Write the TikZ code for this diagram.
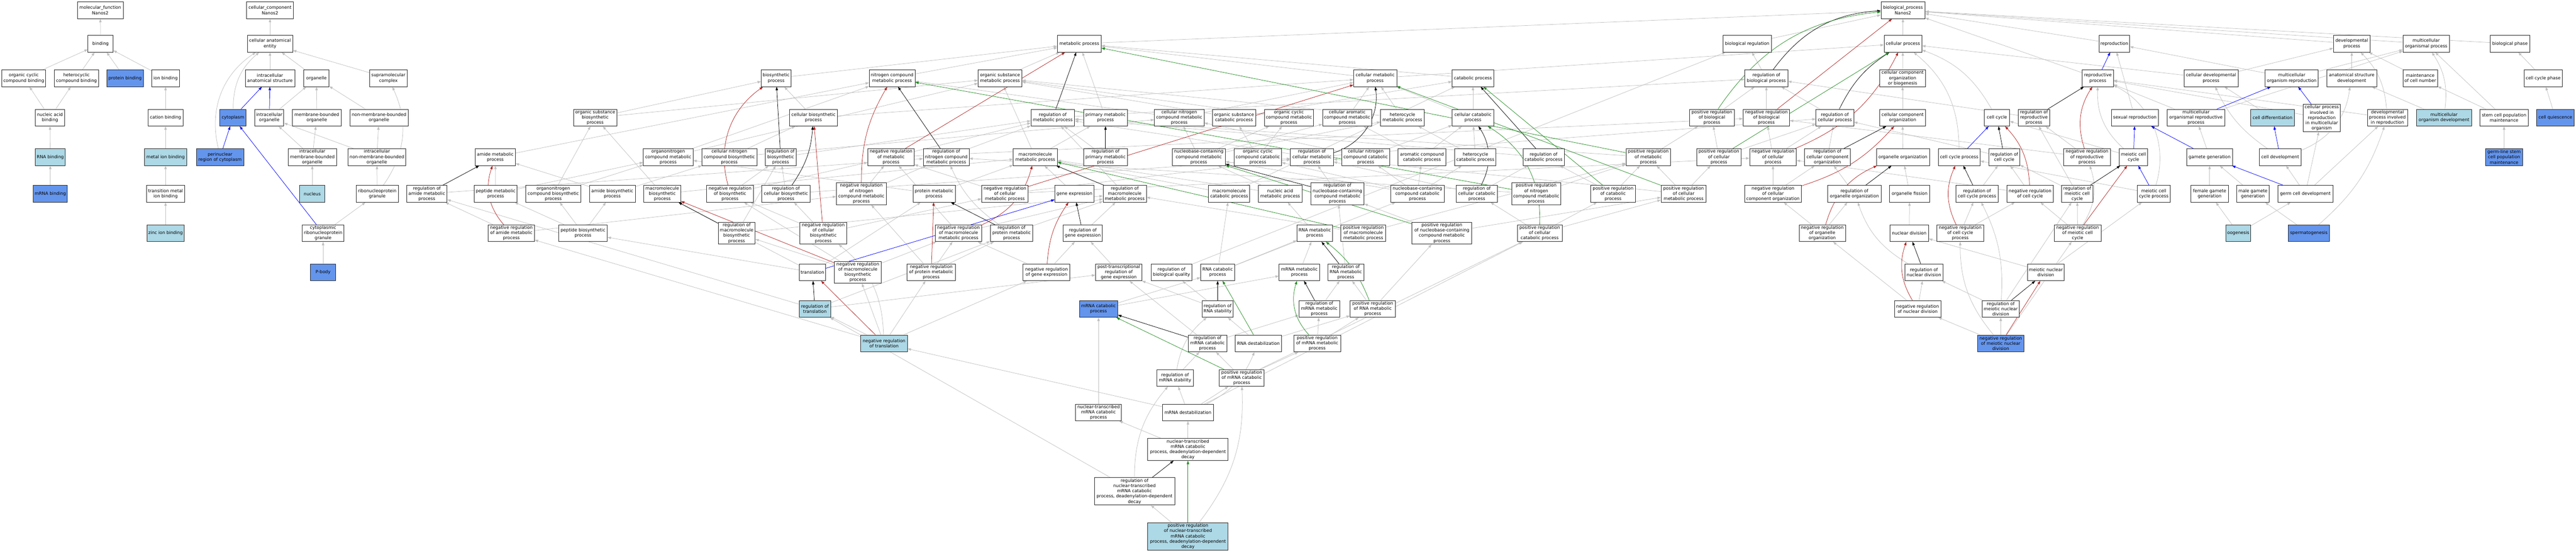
\documentclass[tikz,border=0pt]{standalone}
\usepackage{fontspec}
\setmainfont{DejaVu Sans}
\usetikzlibrary{arrows.meta,backgrounds}
\definecolor{lblue}{RGB}{173,216,230}
\definecolor{cblue}{RGB}{100,149,237}
\definecolor{egrey}{RGB}{192,192,192}
\definecolor{ered}{RGB}{178,34,34}
\definecolor{egreen}{RGB}{34,139,34}
\begin{document}
\begin{tikzpicture}[x=1pt,y=-1.008pt,
go0/.style={rectangle,draw=black!85,line width=1.1pt,fill=white,minimum height=48pt,inner xsep=4pt,inner ysep=3pt,align=center,font=\fontsize{12.5}{15}\selectfont},
go1/.style={go0,fill=lblue},
go2/.style={go0,fill=cblue},
wd/.style={minimum width=#1pt},
isa/.style={color=egrey,line width=1.1pt,-{Triangle[length=10pt,width=7pt]}},
reg/.style={isa,color=black},
negreg/.style={isa,color=ered},
posreg/.style={isa,color=egreen},
partof/.style={isa,color=blue},
]
\useasboundingbox (0,0) rectangle (7375,1566.5);

% molecular function
\node[go0,wd=131] (mf) at (287,29) {molecular\_function\\Nanos2};
\node[go0,wd=72] (binding) at (288,124) {binding};
\node[go0,wd=126] (ocb) at (68,222) {organic cyclic\\compound binding};
\node[go0,wd=126] (hcb) at (219,222) {heterocyclic\\compound binding};
\node[go2,wd=105] (protbind) at (358,222) {protein binding};
\node[go0,wd=79] (ionbind) at (474,222) {ion binding};
\node[go0,wd=83] (nab) at (143,334) {nucleic acid\\binding};
\node[go0,wd=99] (cationb) at (474,334) {cation binding};
\node[go1,wd=86] (rnabind) at (144,446) {RNA binding};
\node[go1,wd=120] (metalion) at (474,446) {metal ion binding};
\node[go2,wd=98] (mrnabind) at (144,550) {mRNA binding};
\node[go0,wd=109] (tmib) at (474,550) {transition metal\\ion binding};
\node[go1,wd=107] (zincion) at (474,662) {zinc ion binding};

% cellular component
\node[go0,wd=134] (cc) at (773,29) {cellular\_component\\Nanos2};
\node[go0,wd=130] (cae) at (773,124) {cellular anatomical\\entity};
\node[go0,wd=142] (ias) at (773,222) {intracellular\\anatomical structure};
\node[go0,wd=72] (organelle) at (906,222) {organelle};
\node[go0,wd=107] (supra) at (1112,222) {supramolecular\\complex};
\node[go2,wd=75] (cytoplasm) at (667,334) {cytoplasm};
\node[go0,wd=83] (io) at (771,334) {intracellular\\organelle};
\node[go0,wd=139] (mbo) at (907,334) {membrane-bounded\\organelle};
\node[go0,wd=166] (nmbo) at (1085,334) {non-membrane-bounded\\organelle};
\node[go2,wd=136] (perinuc) at (630,446) {perinuclear\\region of cytoplasm};
\node[go0,wd=139] (imbo) at (894,446) {intracellular\\membrane-bounded\\organelle};
\node[go0,wd=166] (inmbo) at (1079,446) {intracellular\\non-membrane-bounded\\organelle};
\node[go1,wd=73] (nucleus) at (894,550) {nucleus};
\node[go0,wd=120] (rnpg) at (1080,550) {ribonucleoprotein\\granule};
\node[go0,wd=120] (crnpg) at (925,662) {cytoplasmic\\ribonucleoprotein\\granule};
\node[go2,wd=72] (pbody) at (925,773) {P-body};

% biological process, biosynthesis
\node[go0,wd=116] (regamp) at (1222,550) {regulation of\\amide metabolic\\process};
\node[go0,wd=115] (amp) at (1418,446) {amide metabolic\\process};
\node[go0,wd=124] (osbp) at (1704,334) {organic substance\\biosynthetic\\process};
\node[go0,wd=123] (pepmp) at (1419,550) {peptide metabolic\\process};
\node[go0,wd=158] (oncbp) at (1584,550) {organonitrogen\\compound biosynthetic\\process};
\node[go0,wd=131] (abp) at (1753,550) {amide biosynthetic\\process};
\node[go0,wd=106] (mbp) at (1896,550) {macromolecule\\biosynthetic\\process};
\node[go0,wd=134] (negregbiosyn) at (2090,550) {negative regulation\\of biosynthetic\\process};
\node[go0,wd=142] (oncmp) at (1913,446) {organonitrogen\\compound metabolic\\process};
\node[go0,wd=158] (cncbp) at (2088,446) {cellular nitrogen\\compound biosynthetic\\process};
\node[go0,wd=132] (negregamp) at (1464,662) {negative regulation\\of amide metabolic\\process};
\node[go0,wd=139] (pepbp) at (1669,662) {peptide biosynthetic\\process};
\node[go0,wd=106] (regmbp) at (2109,662) {regulation of\\macromolecule\\biosynthetic\\process};
\node[go0,wd=85] (biosyn) at (2222,222) {biosynthetic\\process};
\node[go0,wd=131] (ncmp) at (2554,222) {nitrogen compound\\metabolic process};
\node[go0,wd=125] (osmp) at (2863,222) {organic substance\\metabolic process};
\node[go0,wd=138] (cbp) at (2329,334) {cellular biosynthetic\\process};
\node[go0,wd=125] (regmp) at (3014,334) {regulation of\\metabolic process};
\node[go0,wd=89] (regbiosyn) at (2235,446) {regulation of\\biosynthetic\\process};
\node[go0,wd=133] (negregmp) at (2551,446) {negative regulation\\of metabolic\\process};
\node[go0,wd=131] (regncmp) at (2709,446) {regulation of\\nitrogen compound\\metabolic process};
\node[go0,wd=126] (mmp) at (2964,446) {macromolecule\\metabolic process};
\node[go0,wd=139] (regcbp) at (2250,550) {regulation of\\cellular biosynthetic\\process};
\node[go0,wd=143] (negregncmp) at (2466,550) {negative regulation\\of nitrogen\\compound metabolic\\process};
\node[go0,wd=121] (protmp) at (2674,550) {protein metabolic\\process};
\node[go0,wd=133] (negregcmp) at (2877,550) {negative regulation\\of cellular\\metabolic process};
\node[go0,wd=112] (geneexp) at (3076,550) {gene expression};
\node[go0,wd=134] (negregcbp) at (2357,662) {negative regulation\\of cellular\\biosynthetic\\process};
\node[go0,wd=134] (negregmmp) at (2744,662) {negative regulation\\of macromolecule\\metabolic process};
\node[go0,wd=122] (regprotmp) at (2896,662) {regulation of\\protein metabolic\\process};
\node[go0,wd=112] (reggeneexp) at (3100,662) {regulation of\\gene expression};
\node[go0,wd=75] (translation) at (2326,773) {translation};
\node[go0,wd=134] (negregmbp) at (2456,773) {negative regulation\\of macromolecule\\biosynthetic\\process};
\node[go0,wd=139] (negregprotmp) at (2666,773) {negative regulation\\of protein metabolic\\process};
\node[go0,wd=134] (negreggeneexp) at (2996,773) {negative regulation\\of gene expression};
\node[go1,wd=89] (regtransl) at (2333,877) {regulation of\\translation};
\node[go1,wd=133] (negregtransl) at (2531,975) {negative regulation\\of translation};

% metabolism, RNA
\node[go0,wd=125] (metab) at (3090,124) {metabolic process};
\node[go0,wd=123] (cmp) at (3937,222) {cellular metabolic\\process};
\node[go0,wd=126] (pmp) at (3165,334) {primary metabolic\\process};
\node[go0,wd=142] (cncmp) at (3376,334) {cellular nitrogen\\compound metabolic\\process};
\node[go0,wd=123] (oscp) at (3533,334) {organic substance\\catabolic process};
\node[go0,wd=141] (occmp) at (3690,334) {organic cyclic\\compound metabolic\\process};
\node[go0,wd=141] (cacmp) at (3857,334) {cellular aromatic\\compound metabolic\\process};
\node[go0,wd=125] (hmp) at (4015,334) {heterocycle\\metabolic process};
\node[go0,wd=126] (regpmp) at (3165,446) {regulation of\\primary metabolic\\process};
\node[go0,wd=152] (nccmp) at (3432,446) {nucleobase-containing\\compound metabolic\\process};
\node[go0,wd=136] (occcp) at (3601,446) {organic cyclic\\compound catabolic\\process};
\node[go0,wd=123] (regcmp) at (3756,446) {regulation of\\cellular metabolic\\process};
\node[go0,wd=136] (cnccp) at (3910,446) {cellular nitrogen\\compound catabolic\\process};
\node[go0,wd=137] (accp) at (4071,446) {aromatic compound\\catabolic process};
\node[go0,wd=124] (regmmp) at (3220,550) {regulation of\\macromolecule\\metabolic process};
\node[go0,wd=118] (mcp) at (3519,550) {macromolecule\\catabolic process};
\node[go0,wd=125] (namp) at (3665,550) {nucleic acid\\metabolic process};
\node[go0,wd=153] (regnccmp) at (3829,550) {regulation of\\nucleobase-containing\\compound metabolic\\process};
\node[go0,wd=153] (ncccp) at (4058,550) {nucleobase-containing\\compound catabolic\\process};
\node[go0,wd=102] (rnamp) at (3764,662) {RNA metabolic\\process};
\node[go0,wd=129] (posregmmp) at (3903,662) {positive regulation\\of macromolecule\\metabolic process};
\node[go0,wd=133] (ptrge) at (3203,773) {post-transcriptional\\regulation of\\gene expression};
\node[go0,wd=117] (regbq) at (3354,773) {regulation of\\biological quality};
\node[go0,wd=97] (rnacp) at (3486,773) {RNA catabolic\\process};
\node[go0,wd=116] (mrnamp) at (3720,773) {mRNA metabolic\\process};
\node[go0,wd=103] (regrnamp) at (3853,773) {regulation of\\RNA metabolic\\process};
\node[go2,wd=110] (mrnacp) at (3145,877) {mRNA catabolic\\process};
\node[go0,wd=88] (regrnastab) at (3486,877) {regulation of\\RNA stability};
\node[go0,wd=117] (regmrnamp) at (3777,877) {regulation of\\mRNA metabolic\\process};
\node[go0,wd=129] (posregrnamp) at (3930,877) {positive regulation\\of RNA metabolic\\process};
\node[go0,wd=111] (regmrnacp) at (3457,975) {regulation of\\mRNA catabolic\\process};
\node[go0,wd=133] (rnadestab) at (3603,975) {RNA destabilization};
\node[go0,wd=134] (posregmrnamp) at (3771,975) {positive regulation\\of mRNA metabolic\\process};
\node[go0,wd=104] (regmrnastab) at (3364,1073) {regulation of\\mRNA stability};
\node[go0,wd=128] (posregmrnacp) at (3555,1073) {positive regulation\\of mRNA catabolic\\process};
\node[go0,wd=131] (ntmcp) at (3145,1171) {nuclear-transcribed\\mRNA catabolic\\process};
\node[go0,wd=147] (mrnadestab) at (3401,1171) {mRNA destabilization};
\node[go0,wd=230] (ntdd) at (3401,1276) {nuclear-transcribed\\mRNA catabolic\\process, deadenylation-dependent\\decay};
\node[go0,wd=230] (regntdd) at (3248,1395) {regulation of\\nuclear-transcribed\\mRNA catabolic\\process, deadenylation-dependent\\decay};
\node[go1,wd=230] (posregntdd) at (3401,1523) {positive regulation\\of nuclear-transcribed\\mRNA catabolic\\process, deadenylation-dependent\\decay};

% catabolism, positive regulation
\node[go0,wd=119] (catab) at (4217,222) {catabolic process};
\node[go0,wd=119] (ccp) at (4217,334) {cellular catabolic\\process};
\node[go0,wd=129] (posregbp) at (4901,334) {positive regulation\\of biological\\process};
\node[go0,wd=118] (hcp) at (4224,446) {heterocycle\\catabolic process};
\node[go0,wd=118] (regcatab) at (4419,446) {regulation of\\catabolic process};
\node[go0,wd=128] (posregmp) at (4719,446) {positive regulation\\of metabolic\\process};
\node[go0,wd=128] (posregcp) at (4921,446) {positive regulation\\of cellular\\process};
\node[go0,wd=118] (regccp) at (4228,550) {regulation of\\cellular catabolic\\process};
\node[go0,wd=141] (posregncmp) at (4398,550) {positive regulation\\of nitrogen\\compound metabolic\\process};
\node[go0,wd=128] (posregcatab) at (4618,550) {positive regulation\\of catabolic\\process};
\node[go0,wd=129] (posregcmp) at (4820,550) {positive regulation\\of cellular\\metabolic process};
\node[go0,wd=171] (posregnccmp) at (4128,662) {positive regulation\\of nucleobase-containing\\compound metabolic\\process};
\node[go0,wd=128] (posregccp) at (4408,662) {positive regulation\\of cellular\\catabolic process};
\node[go0,wd=139] (bioreg) at (5002,124) {biological regulation};

% cellular process, cell cycle
\node[go0,wd=126] (bp) at (5448,29) {biological\_process\\Nanos2};
\node[go0,wd=108] (cellproc) at (5448,124) {cellular process};
\node[go0,wd=123] (regbp) at (5057,222) {regulation of\\biological process};
\node[go0,wd=131] (ccob) at (5447,222) {cellular component\\organization\\or biogenesis};
\node[go0,wd=133] (negregbp) at (5057,334) {negative regulation\\of biological\\process};
\node[go0,wd=108] (regcp) at (5253,334) {regulation of\\cellular process};
\node[go0,wd=131] (cco) at (5447,334) {cellular component\\organization};
\node[go0,wd=73] (cellcycle) at (5717,334) {cell cycle};
\node[go0,wd=90] (regrepro) at (5823,334) {regulation of\\reproductive\\process};
\node[go0,wd=134] (negregcp) at (5076,446) {negative regulation\\of cellular\\process};
\node[go0,wd=131] (regcco) at (5232,446) {regulation of\\cellular component\\organization};
\node[go0,wd=152] (orgorg) at (5448,446) {organelle organization};
\node[go0,wd=120] (ccproc) at (5609,446) {cell cycle process};
\node[go0,wd=89] (regcc) at (5738,446) {regulation of\\cell cycle};
\node[go0,wd=163] (negregcco) at (5076,550) {negative regulation\\of cellular\\component organization};
\node[go0,wd=152] (regorgorg) at (5309,550) {regulation of\\organelle organization};
\node[go0,wd=114] (orgfission) at (5467,550) {organelle fission};
\node[go0,wd=121] (regccproc) at (5660,550) {regulation of\\cell cycle process};
\node[go0,wd=134] (negregcc) at (5812,550) {negative regulation\\of cell cycle};
\node[go0,wd=133] (negregorgorg) at (5217,662) {negative regulation\\of organelle\\organization};
\node[go0,wd=111] (nucdiv) at (5466,662) {nuclear division};
\node[go0,wd=134] (negregccproc) at (5612,662) {negative regulation\\of cell cycle\\process};
\node[go0,wd=110] (regnucdiv) at (5508,773) {regulation of\\nuclear division};
\node[go0,wd=106] (meinucdiv) at (5857,773) {meiotic nuclear\\division};
\node[go0,wd=133] (negregnucdiv) at (5490,877) {negative regulation\\of nuclear division};
\node[go0,wd=107] (regmeinucdiv) at (5728,877) {regulation of\\meiotic nuclear\\division};
\node[go2,wd=134] (negregmeinucdiv) at (5728,975) {negative regulation\\of meiotic nuclear\\division};

% reproduction, development
\node[go0,wd=88] (reproduction) at (6053,124) {reproduction};
\node[go0,wd=89] (reprodproc) at (6006,222) {reproductive\\process};
\node[go0,wd=155] (celldevproc) at (6330,222) {cellular developmental\\process};
\node[go0,wd=152] (mcorepro) at (6561,222) {multicellular\\organism reproduction};
\node[go0,wd=134] (sexrep) at (6112,334) {sexual reproduction};
\node[go0,wd=166] (mcorp) at (6287,334) {multicellular\\organismal reproductive\\process};
\node[go1,wd=125] (celldiff) at (6506,334) {cell differentiation};
\node[go0,wd=107] (cpirmo) at (6647,335) {cellular process\\involved in\\reproduction\\in multicellular\\organism};
\node[go0,wd=133] (negregrepro) at (5975,446) {negative regulation\\of reproductive\\process};
\node[go0,wd=82] (meicc) at (6108,446) {meiotic cell\\cycle};
\node[go0,wd=131] (gametegen) at (6326,446) {gamete generation};
\node[go0,wd=120] (celldev) at (6528,446) {cell development};
\node[go0,wd=89] (regmeicc) at (5947,550) {regulation of\\meiotic cell\\cycle};
\node[go0,wd=95] (meiccproc) at (6166,550) {meiotic cell\\cycle process};
\node[go0,wd=107] (femgg) at (6326,550) {female gamete\\generation};
\node[go0,wd=94] (malegg) at (6450,550) {male gamete\\generation};
\node[go0,wd=158] (germcelldev) at (6600,550) {germ cell development};
\node[go0,wd=134] (negregmeicc) at (5948,662) {negative regulation\\of meiotic cell\\cycle};
\node[go1,wd=72] (oogenesis) at (6408,662) {oogenesis};
\node[go2,wd=119] (spermato) at (6610,662) {spermatogenesis};
\node[go0,wd=105] (devproc) at (6733,124) {developmental\\process};
\node[go0,wd=133] (mcop) at (6946,124) {multicellular\\organismal process};
\node[go0,wd=113] (biophase) at (7186,124) {biological phase};
\node[go0,wd=142] (asd) at (6733,222) {anatomical structure\\development};
\node[go0,wd=99] (maintcn) at (6929,222) {maintenance\\of cell number};
\node[go0,wd=110] (ccphase) at (7281,222) {cell cycle phase};
\node[go0,wd=115] (dpir) at (6835,334) {developmental\\process involved\\in reproduction};
\node[go1,wd=157] (mcod) at (6997,334) {multicellular\\organism development};
\node[go0,wd=139] (scpm) at (7169,334) {stem cell population\\maintenance};
\node[go2,wd=108] (cellquies) at (7316,334) {cell quiescence};
\node[go2,wd=106] (glscpm) at (7169,446) {germ-line stem\\cell population\\maintenance};

\begin{pgfonlayer}{background}
\path[isa]
 (binding) edge (mf) (ocb) edge (binding) (hcb) edge (binding) (protbind) edge (binding) (ionbind) edge (binding)
 (nab) edge (ocb) (nab) edge (hcb) (rnabind) edge (nab) (mrnabind) edge (rnabind)
 (cationb) edge (ionbind) (metalion) edge (cationb) (tmib) edge (metalion) (zincion) edge (tmib);
\path[isa]
 (cae) edge (cc) (ias) edge (cae) (organelle) edge (cae) (supra) edge (cae)
 (cytoplasm) edge[bend left=25] (cae) (perinuc) edge[bend left=35] (cae)
 (io) edge (organelle) (mbo) edge (organelle) (nmbo) edge (organelle)
 (imbo) edge (io) (imbo) edge (mbo) (inmbo) edge (io) (inmbo) edge (nmbo)
 (nucleus) edge (imbo) (rnpg) edge (inmbo) (rnpg) edge[bend right=30] (supra)
 (crnpg) edge (rnpg) (pbody) edge (crnpg);
\path[partof] (cytoplasm) edge (ias) (io) edge (ias) (perinuc) edge (cytoplasm) (crnpg) edge (cytoplasm);

\path[isa]
 (metab) edge (bp) (bioreg) edge (bp) (cellproc) edge (bp) (reproduction) edge (bp) (reprodproc) edge (bp)
 (devproc) edge (bp) (mcop) edge (bp) (biophase) edge (bp)
 (regbp) edge (bioreg) (posregbp) edge (regbp) (negregbp) edge (regbp) (regcp) edge (regbp)
 (posregcp) edge (posregbp) (posregcp) edge (regcp) (negregcp) edge (negregbp) (negregcp) edge (regcp)
 (ccob) edge (cellproc) (cco) edge (ccob) (regcco) edge (regcp) (negregcco) edge (negregcp) (negregcco) edge (regcco)
 (orgorg) edge (cco) (regorgorg) edge (regcco) (negregorgorg) edge (regorgorg) (negregorgorg) edge (negregcco)
 (orgfission) edge (orgorg) (nucdiv) edge (orgfission) (regnucdiv) edge[bend left=20] (regorgorg)
 (negregnucdiv) edge (regnucdiv) (negregnucdiv) edge (negregorgorg)
 (cellcycle) edge[bend right=20] (cellproc) (ccproc) edge[bend right=25] (cellproc) (regcc) edge (regcp) (regccproc) edge (regcc)
 (negregcc) edge (regcc) (negregcc) edge (negregcp) (negregccproc) edge (regccproc) (negregccproc) edge (negregcc)
 (meinucdiv) edge (nucdiv) (meinucdiv) edge (meiccproc)
 (regmeinucdiv) edge (regnucdiv) (regmeinucdiv) edge[bend right=15] (regccproc) (regmeinucdiv) edge (regmeicc)
 (negregmeinucdiv) edge (regmeinucdiv) (negregmeinucdiv) edge (negregnucdiv)
 (negregmeinucdiv) edge[bend left=20] (negregccproc) (negregmeinucdiv) edge (negregmeicc);
\path[isa]
 (regrepro) edge (regbp) (negregrepro) edge (regrepro) (negregrepro) edge (negregbp)
 (meicc) edge (cellcycle) (meicc) edge[bend left=25] (reprodproc) (meiccproc) edge (ccproc) (meiccproc) edge[bend right=40] (reprodproc)
 (regmeicc) edge (regcc) (regmeicc) edge (regrepro) (negregmeicc) edge (regmeicc) (negregmeicc) edge[bend right=25] (negregrepro) (negregmeicc) edge (negregcc)
 (sexrep) edge (reproduction) (gametegen) edge (mcorp) (mcorp) edge (reprodproc) (mcorp) edge (mcop)
 (mcorepro) edge (reproduction) (mcorepro) edge (mcop)
 (celldevproc) edge (cellproc) (celldevproc) edge (devproc) (celldiff) edge (celldevproc)
 (celldev) edge[bend left=15] (celldevproc) (celldev) edge[bend right=30] (asd) (cpirmo) edge (reprodproc)
 (dpir) edge[bend right=20] (devproc) (dpir) edge (reprodproc)
 (germcelldev) edge (celldev) (germcelldev) edge (cpirmo) (germcelldev) edge (dpir)
 (femgg) edge (gametegen) (malegg) edge (gametegen) (oogenesis) edge (femgg) (oogenesis) edge (germcelldev)
 (spermato) edge (malegg) (spermato) edge[bend right=15] (dpir)
 (asd) edge (devproc) (maintcn) edge (devproc) (mcod) edge[bend right=20] (mcop) (mcod) edge (asd)
 (scpm) edge (maintcn) (scpm) edge (mcop) (glscpm) edge (scpm) (ccphase) edge (biophase) (cellquies) edge (ccphase);

\path[isa]
 (cmp) edge (metab) (cmp) edge (cellproc) (osmp) edge (metab) (ncmp) edge (metab) (pmp) edge (metab) (biosyn) edge (metab) (catab) edge (metab)
 (regmp) edge (regbp) (negregmp) edge (regmp) (negregmp) edge (negregbp) (posregmp) edge (regmp) (posregmp) edge (posregbp)
 (regcmp) edge (regmp) (regcmp) edge (regcp) (negregcmp) edge (negregmp) (negregcmp) edge (regcmp) (negregcmp) edge (negregcp)
 (posregcmp) edge (posregmp) (posregcmp) edge (regcmp) (posregcmp) edge (posregcp)
 (regncmp) edge (regmp) (negregncmp) edge (negregmp) (negregncmp) edge (regncmp) (posregncmp) edge (posregmp) (posregncmp) edge (regncmp)
 (regpmp) edge (regmp) (regmmp) edge (regmp) (negregmmp) edge (negregmp) (negregmmp) edge (regmmp) (posregmmp) edge (posregmp) (posregmmp) edge (regmmp)
 (mmp) edge (osmp) (mmp) edge (pmp) (cncmp) edge (ncmp) (cncmp) edge (cmp) (oscp) edge (osmp) (oscp) edge (catab) (occmp) edge (osmp)
 (cacmp) edge (cmp) (hmp) edge (cmp) (hmp) edge (osmp)
 (nccmp) edge (cncmp) (nccmp) edge (occmp) (nccmp) edge (cacmp) (nccmp) edge (hmp)
 (occcp) edge (occmp) (occcp) edge (oscp) (cnccp) edge (cncmp) (cnccp) edge (ccp) (accp) edge (cacmp) (accp) edge (ccp) (hcp) edge (hmp) (hcp) edge (ccp)
 (ccp) edge (catab) (ccp) edge (cmp) (regcatab) edge (regmp) (regccp) edge (regcatab) (regccp) edge (regcmp)
 (posregcatab) edge (regcatab) (posregcatab) edge (posregmp) (posregccp) edge (regccp) (posregccp) edge (posregcatab) (posregccp) edge (posregcmp)
 (ncccp) edge (nccmp) (ncccp) edge (cnccp) (ncccp) edge (accp) (ncccp) edge (hcp) (ncccp) edge (occcp)
 (mcp) edge (mmp) (mcp) edge (catab) (namp) edge (nccmp) (namp) edge (mmp) (rnamp) edge (namp)
 (regnccmp) edge (regcmp) (posregnccmp) edge (regnccmp) (posregnccmp) edge (posregcmp)
 (regrnamp) edge (regnccmp) (posregrnamp) edge (regrnamp) (posregrnamp) edge (posregnccmp)
 (mrnamp) edge (rnamp) (regmrnamp) edge (regrnamp) (posregmrnamp) edge (regmrnamp) (posregmrnamp) edge (posregrnamp)
 (rnacp) edge (rnamp) (rnacp) edge (mcp) (rnacp) edge (ncccp) (mrnacp) edge (mrnamp) (mrnacp) edge (rnacp)
 (ptrge) edge (reggeneexp) (regbq) edge (bioreg) (regrnastab) edge (regbq) (regrnastab) edge (ptrge)
 (regmrnacp) edge (regmrnamp) (regmrnacp) edge (ptrge) (rnadestab) edge (regrnastab) (rnadestab) edge (posregrnamp)
 (regmrnastab) edge[bend left=20] (regrnastab) (regmrnastab) edge (regmrnacp)
 (posregmrnacp) edge (regmrnacp) (posregmrnacp) edge (posregmrnamp) (posregmrnacp) edge (posregccp)
 (mrnadestab) edge (regmrnastab) (mrnadestab) edge (posregmrnacp) (mrnadestab) edge[bend right=20] (rnadestab)
 (mrnadestab) edge (negregtransl) (mrnadestab) edge (posregccp)
 (ntmcp) edge (mrnacp) (ntdd) edge (ntmcp) (ntdd) edge (mrnadestab)
 (regntdd) edge[bend left=20] (regmrnastab) (regntdd) edge (regtransl) (posregntdd) edge (regntdd) (posregntdd) edge[bend right=20] (posregmrnacp);

\path[isa]
 (osbp) edge (biosyn) (osbp) edge (osmp) (oncbp) edge (osbp) (oncbp) edge (oncmp) (abp) edge (amp) (abp) edge (cncbp)
 (mbp) edge (osbp) (mbp) edge (mmp) (pepmp) edge (amp) (pepmp) edge (oncmp)
 (pepbp) edge (pepmp) (pepbp) edge (oncbp) (pepbp) edge (abp)
 (amp) edge (ncmp) (oncmp) edge (ncmp) (oncmp) edge (osmp)
 (regamp) edge (regncmp) (negregamp) edge (regamp) (negregamp) edge (negregncmp)
 (cncbp) edge (cncmp) (cncbp) edge (cbp) (cbp) edge (biosyn) (cbp) edge (cmp)
 (regbiosyn) edge (regmp) (regcbp) edge (regbiosyn) (regcbp) edge (regcmp)
 (negregcbp) edge (regcbp) (negregcbp) edge (negregbiosyn) (negregcbp) edge (negregcmp)
 (negregbiosyn) edge (regbiosyn) (negregbiosyn) edge (negregmp)
 (regmbp) edge (regbiosyn) (regmbp) edge (regmmp)
 (negregmbp) edge (regmbp) (negregmbp) edge (negregbiosyn) (negregmbp) edge (negregmmp)
 (translation) edge (pepbp) (translation) edge (mbp) (translation) edge (protmp)
 (regtransl) edge (regamp) (regtransl) edge (regprotmp) (regtransl) edge (ptrge)
 (negregtransl) edge (regtransl) (negregtransl) edge (negregmbp) (negregtransl) edge (negregprotmp) (negregtransl) edge (negreggeneexp)
 (negregtransl) edge (negregamp) (negregtransl) edge[bend right=25] (negregcbp)
 (protmp) edge (mmp) (protmp) edge (oncmp) (regprotmp) edge (regmmp) (regprotmp) edge[bend left=15] (regncmp)
 (negregprotmp) edge (regprotmp) (negregprotmp) edge (negregmmp) (negregprotmp) edge (negregncmp)
 (geneexp) edge (mmp) (reggeneexp) edge (regmmp) (negreggeneexp) edge (reggeneexp) (negreggeneexp) edge (negregmmp);

\path[reg]
 (regbp) edge[bend left=25] (bp) (regcp) edge[bend left=15] (cellproc) (regcco) edge (cco) (regorgorg) edge (orgorg) (regnucdiv) edge (nucdiv)
 (regcc) edge (cellcycle) (regccproc) edge (ccproc) (regmeinucdiv) edge (meinucdiv) (regrepro) edge (reprodproc) (regmeicc) edge (meicc)
 (regmp) edge (metab) (regcmp) edge[bend right=40] (cmp) (regncmp) edge (ncmp) (regpmp) edge (pmp) (regmmp) edge (mmp)
 (regcatab) edge (catab) (regccp) edge[bend right=30] (ccp) (regnccmp) edge (nccmp) (regrnamp) edge (rnamp) (regmrnamp) edge (mrnamp)
 (regrnastab) edge (rnacp) (regmrnacp) edge (mrnacp) (regntdd) edge (ntdd)
 (regbiosyn) edge (biosyn) (regcbp) edge[bend right=15] (cbp) (regmbp) edge (mbp) (regtransl) edge (translation)
 (regprotmp) edge (protmp) (reggeneexp) edge (geneexp) (regamp) edge (amp);
\path[negreg]
 (negregbp) edge (bp) (negregcp) edge[bend right=20] (cellproc) (negregcco) edge[bend right=15] (cco) (negregorgorg) edge[bend left=25] (orgorg) (negregnucdiv) edge[bend left=25] (nucdiv)
 (negregcc) edge[bend right=20] (cellcycle) (negregccproc) edge[bend left=25] (ccproc) (negregmeinucdiv) edge (meinucdiv) (negregrepro) edge[bend left=25] (reprodproc) (negregmeicc) edge (meicc)
 (negregmp) edge (metab) (negregcmp) edge (cmp) (negregncmp) edge[bend left=15] (ncmp) (negregmmp) edge[bend right=25] (mmp)
 (negregbiosyn) edge[bend left=35] (biosyn) (negregcbp) edge (cbp) (negregmbp) edge (mbp) (negregtransl) edge (translation)
 (negregprotmp) edge (protmp) (negreggeneexp) edge[bend left=15] (geneexp) (negregamp) edge[bend left=30] (amp);
\path[posreg]
 (posregbp) edge[bend left=25] (bp) (posregcp) edge (cellproc) (posregmp) edge (metab) (posregcmp) edge (cmp) (posregncmp) edge (ncmp) (posregmmp) edge (mmp)
 (posregcatab) edge (catab) (posregccp) edge[bend right=30] (ccp) (posregnccmp) edge (nccmp) (posregrnamp) edge[bend right=15] (rnamp) (posregmrnamp) edge[bend left=30] (mrnamp)
 (rnadestab) edge (rnacp) (posregmrnacp) edge (mrnacp) (posregntdd) edge (ntdd);
\path[partof]
 (reprodproc) edge (reproduction) (meicc) edge (sexrep) (meiccproc) edge (meicc) (gametegen) edge (sexrep) (mcorp) edge (mcorepro)
 (celldev) edge (celldiff) (cpirmo) edge (mcorepro) (germcelldev) edge (gametegen) (ccproc) edge (cellcycle) (translation) edge (geneexp);
\end{pgfonlayer}
\end{tikzpicture}
\end{document}
